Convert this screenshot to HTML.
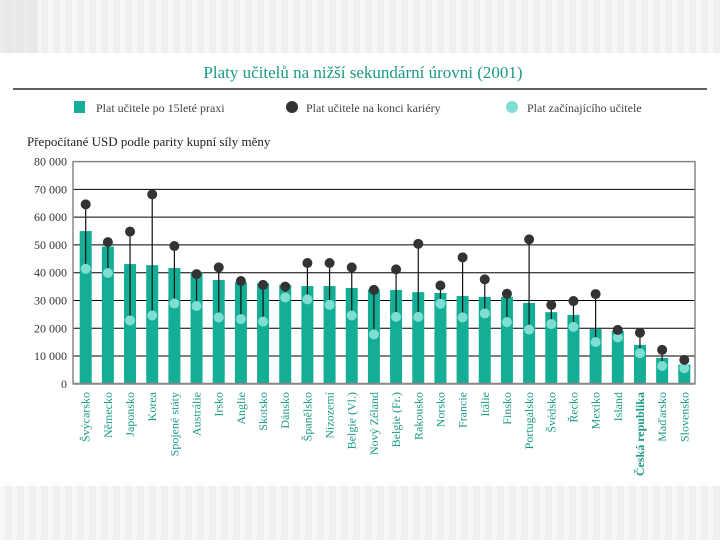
<!DOCTYPE html>
<html><head><meta charset="utf-8"><style>
body{margin:0;width:720px;height:540px;overflow:hidden;background:#fff;font-family:"Liberation Serif","DejaVu Serif",serif}
</style></head><body>
<svg width="720" height="540" xmlns="http://www.w3.org/2000/svg">
<defs><pattern id="stripes" width="12" height="10" patternUnits="userSpaceOnUse"><rect width="12" height="10" fill="#efefef"/><rect width="5" height="10" fill="#f7f7f7"/></pattern></defs>
<rect x="0" y="0" width="720" height="53" fill="url(#stripes)"/>
<rect x="0" y="486" width="720" height="54" fill="url(#stripes)"/>
<rect x="0" y="0" width="38" height="53" fill="#e2e2e2" opacity="0.6"/>
<text x="363" y="78" text-anchor="middle" font-size="17" fill="#1a9a85">Platy učitelů na nižší sekundární úrovni (2001)</text>
<line x1="13" y1="89" x2="707" y2="89" stroke="#000" stroke-width="1.2"/>
<g font-size="12" fill="#444">
<rect x="74" y="101" width="11" height="12" fill="#14ae96"/>
<text x="96" y="112">Plat učitele po 15leté praxi</text>
<circle cx="292" cy="107" r="6" fill="#333"/>
<text x="306" y="112">Plat učitele na konci kariéry</text>
<circle cx="512" cy="107" r="6" fill="#7fded2"/>
<text x="527" y="112">Plat začínajícího učitele</text>
</g>
<text x="27" y="146" font-size="13" fill="#222">Přepočítané USD podle parity kupní síly měny</text>
<g id="plot"></g>
</svg>
<script>
const categories=["Švýcarsko","Německo","Japonsko","Korea","Spojené státy","Austrálie","Irsko","Anglie","Skotsko","Dánsko","Španělsko","Nizozemí","Belgie (Vl.)","Nový Zéland","Belgie (Fr.)","Rakousko","Norsko","Francie","Itálie","Finsko","Portugalsko","Švédsko","Řecko","Mexiko","Island","Česká republika","Maďarsko","Slovensko"];
const mid15=[55000,49400,43100,42700,41700,40000,37400,36600,36200,35600,35200,35200,34500,34000,33800,33000,32700,31600,31300,31300,29100,25800,24800,19700,19100,14000,9300,6900];
const maxSal=[64600,51000,54800,68200,49600,39500,41900,37000,35600,35000,43500,43500,41900,33800,41200,50400,35400,45500,37600,32400,52000,28400,29800,32300,19400,18400,12200,8600];
const minSal=[41400,39900,22800,24600,28900,28000,23900,23300,22400,31100,30400,28400,24600,17800,24100,24100,28800,23900,25300,22200,19500,21500,20500,15000,16700,11000,6400,5600];
const yTicks=[0,10000,20000,30000,40000,50000,60000,70000,80000];
const yTickLabels=["0","10 000","20 000","30 000","40 000","50 000","60 000","70 000","80 000"];

const NS="http://www.w3.org/2000/svg";
const L=73,R=695,T=161.6,B=383.8;
const y=v=>B-(v/80000)*(B-T);
const x0=85.7,step=(684.3-85.7)/(categories.length-1);
const x=i=>x0+i*step;
const g=document.getElementById('plot');
function mk(tag,attrs){const e=document.createElementNS(NS,tag);for(const k in attrs)e.setAttribute(k,attrs[k]);g.appendChild(e);return e;}
yTicks.forEach((t,i)=>{
  if(t>0&&t<80000){const l=mk('line',{x1:L,x2:R,y1:y(t),y2:y(t),stroke:'#000','stroke-width':1});
  
  }
  const tx=mk('text',{x:L-6,y:y(t)+4,'text-anchor':'end','font-size':12,fill:'#333'});
  tx.textContent=yTickLabels[i];
  
  
});
const fr=mk('rect',{x:L,y:T,width:R-L,height:B-T,fill:'none',stroke:'#888','stroke-width':1.5});


categories.forEach((c,i)=>{
  const cx=x(i);
  const b=mk('rect',{x:cx-6,y:y(mid15[i]),width:12,height:B-y(mid15[i]),fill:'#14ae96'});
  
  
  const ln=mk('line',{x1:cx,x2:cx,y1:y(maxSal[i]),y2:y(minSal[i]),stroke:'#111','stroke-width':1.2});
  
  
  const mn=mk('circle',{cx:cx,cy:y(minSal[i]),r:5,fill:'#7fded2'});
  
  
  const mx=mk('circle',{cx:cx,cy:y(maxSal[i]),r:5,fill:'#333'});
  
  
  const t=mk('text',{x:0,y:0,transform:`translate(${cx+4},392) rotate(-90)`,'text-anchor':'end','font-size':12,fill:'#1a9a85'});
  if(c==="Česká republika")t.setAttribute('font-weight','bold');
  t.textContent=c;
  
  
});
const ax=mk('line',{x1:L,x2:R,y1:B,y2:B,stroke:'#888','stroke-width':2});


</script>
</body></html>
